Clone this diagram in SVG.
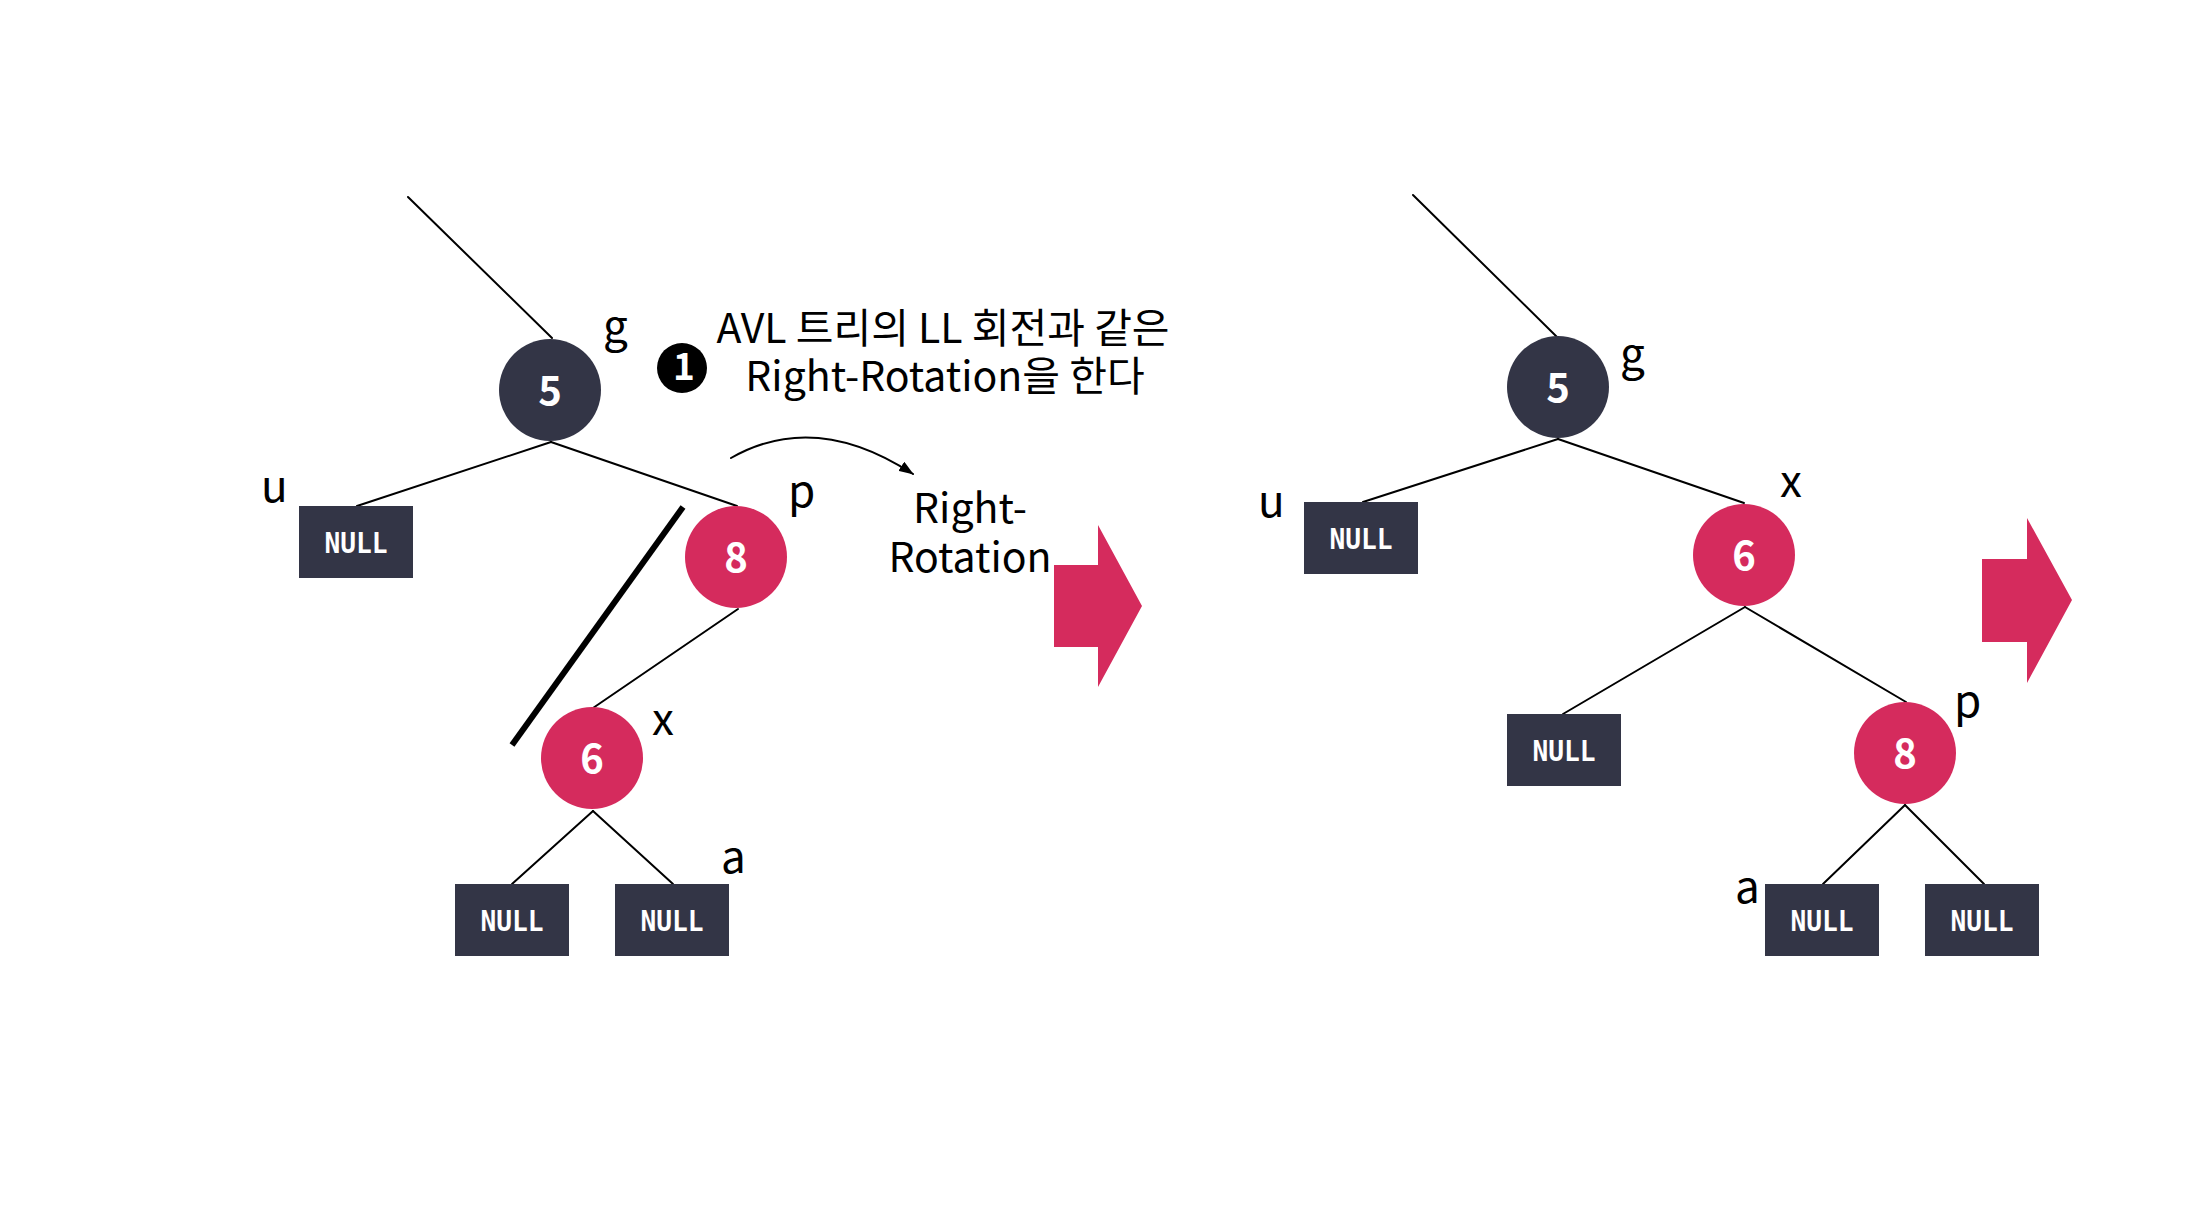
<svg xmlns="http://www.w3.org/2000/svg" width="2198" height="1232" viewBox="0 0 2198 1232">
<defs>
<style>
.edge{stroke:#000;stroke-width:2;fill:none;stroke-linecap:round}
.dark{fill:#333546}
.red{fill:#D52B5D}
.num{font-family:"Noto Sans CJK KR","Noto Sans",sans-serif;font-size:40px;font-weight:bold;fill:#fff;text-anchor:middle}
.nul{font-family:"DejaVu Sans Mono","Liberation Mono",monospace;font-size:29px;font-weight:bold;fill:#fff;text-anchor:middle}
.lbl{font-family:"Noto Sans CJK KR","Noto Sans",sans-serif;font-size:44px;fill:#000}
.txt{font-family:"Noto Sans CJK KR","Noto Sans",sans-serif;font-size:41px;fill:#000;text-anchor:middle}
</style>
<marker id="ah" markerUnits="userSpaceOnUse" markerWidth="15" markerHeight="11" refX="14" refY="5.5" orient="auto">
<path d="M0,0 L15,5.5 L0,11 z" fill="#000"/>
</marker>
</defs>
<rect width="2198" height="1232" fill="#fff"/>

<g id="connectors">
<line class="edge" x1="408" y1="197" x2="552" y2="338"/>
<line class="edge" x1="551" y1="442" x2="357" y2="506"/>
<line class="edge" x1="551" y1="442" x2="737" y2="506"/>
<line class="edge" x1="738" y1="609" x2="593" y2="708"/>
<line class="edge" x1="593" y1="811" x2="512" y2="884"/>
<line class="edge" x1="593" y1="811" x2="673" y2="884"/>
<line x1="683" y1="507" x2="512" y2="745" stroke="#000" stroke-width="6"/>
<path class="edge" d="M731,458 Q815,410 913,474" marker-end="url(#ah)"/>
<line class="edge" x1="1413" y1="195" x2="1557" y2="337"/>
<line class="edge" x1="1558" y1="439" x2="1363" y2="502"/>
<line class="edge" x1="1558" y1="439" x2="1744" y2="503"/>
<line class="edge" x1="1745" y1="607" x2="1563" y2="714"/>
<line class="edge" x1="1745" y1="607" x2="1906" y2="702"/>
<line class="edge" x1="1905" y1="805" x2="1823" y2="884"/>
<line class="edge" x1="1905" y1="805" x2="1984" y2="884"/>
</g>

<g id="L-node5"><circle class="dark" cx="550" cy="390" r="51"/><text class="num" x="550" y="405">5</text></g>
<g id="L-node8"><circle class="red" cx="736" cy="557" r="51"/><text class="num" x="736" y="572">8</text></g>
<g id="L-node6"><circle class="red" cx="592" cy="758" r="51"/><text class="num" x="592" y="773">6</text></g>
<g id="L-null-u"><rect class="dark" x="299" y="506" width="114" height="72"/><text class="nul" x="356" y="553" textLength="63" lengthAdjust="spacingAndGlyphs">NULL</text></g>
<g id="L-null-1"><rect class="dark" x="455" y="884" width="114" height="72"/><text class="nul" x="512" y="931" textLength="63" lengthAdjust="spacingAndGlyphs">NULL</text></g>
<g id="L-null-2"><rect class="dark" x="615" y="884" width="114" height="72"/><text class="nul" x="672" y="931" textLength="63" lengthAdjust="spacingAndGlyphs">NULL</text></g>

<g id="L-labels">
<text class="lbl" x="603" y="342">g</text>
<text class="lbl" x="261" y="502">u</text>
<text class="lbl" x="788" y="507">p</text>
<text class="lbl" x="652" y="735">x</text>
<text class="lbl" x="721" y="873">a</text>
</g>

<g id="note">
<circle cx="682" cy="368" r="25" fill="#000"/>
<text x="684" y="380" font-family="Noto Sans CJK KR,Noto Sans,sans-serif" font-size="37" font-weight="bold" fill="#fff" text-anchor="middle">1</text>
<text class="txt"><tspan x="943" y="343">AVL 트리의 LL 회전과 같은</tspan><tspan x="945" y="391">Right-Rotation을 한다</tspan></text>
</g>

<g id="rotation-label">
<text class="txt"><tspan x="970" y="523">Right-</tspan><tspan x="970" y="572">Rotation</tspan></text>
</g>

<g id="arrow1"><polygon class="red" points="1054,565 1098,565 1098,525 1142,606 1098,687 1098,647 1054,647"/></g>

<g id="R-node5"><circle class="dark" cx="1558" cy="387" r="51"/><text class="num" x="1558" y="402">5</text></g>
<g id="R-node6"><circle class="red" cx="1744" cy="555" r="51"/><text class="num" x="1744" y="570">6</text></g>
<g id="R-node8"><circle class="red" cx="1905" cy="753" r="51"/><text class="num" x="1905" y="768">8</text></g>
<g id="R-null-u"><rect class="dark" x="1304" y="502" width="114" height="72"/><text class="nul" x="1361" y="549" textLength="63" lengthAdjust="spacingAndGlyphs">NULL</text></g>
<g id="R-null-1"><rect class="dark" x="1507" y="714" width="114" height="72"/><text class="nul" x="1564" y="761" textLength="63" lengthAdjust="spacingAndGlyphs">NULL</text></g>
<g id="R-null-2"><rect class="dark" x="1765" y="884" width="114" height="72"/><text class="nul" x="1822" y="931" textLength="63" lengthAdjust="spacingAndGlyphs">NULL</text></g>
<g id="R-null-3"><rect class="dark" x="1925" y="884" width="114" height="72"/><text class="nul" x="1982" y="931" textLength="63" lengthAdjust="spacingAndGlyphs">NULL</text></g>

<g id="R-labels">
<text class="lbl" x="1620" y="370">g</text>
<text class="lbl" x="1258" y="517">u</text>
<text class="lbl" x="1780" y="497">x</text>
<text class="lbl" x="1954" y="717">p</text>
<text class="lbl" x="1735" y="903">a</text>
</g>

<g id="arrow2"><polygon class="red" points="1982,559 2027,559 2027,518 2072,600 2027,683 2027,642 1982,642"/></g>
</svg>
